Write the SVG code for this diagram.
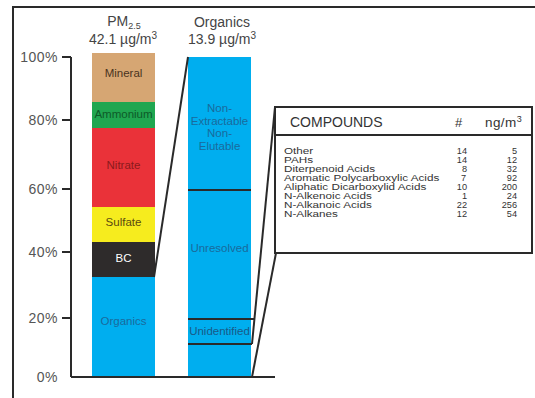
<svg xmlns="http://www.w3.org/2000/svg" width="535" height="398" viewBox="0 0 535 398">
<style>
text{font-family:"Liberation Sans",Arial,sans-serif}
.ax{font-size:14px;fill:#555;text-anchor:end;letter-spacing:0.5px}
.ttl{font-size:14px;fill:#444;text-anchor:middle}
.seg{font-size:11.5px;text-anchor:middle}
.ln{stroke:#2a2a2a;stroke-width:2;fill:none}
.row{font-size:8.8px;fill:#333}
.num{font-size:9.2px;fill:#333;text-anchor:end}
</style>
<rect width="535" height="398" fill="#fff"/>
<g id="frame">
<path class="ln" d="M13,398 V7 H535" stroke-width="2.5"/>
</g>
<g id="axis">
<path class="ln" d="M71,57 V377 M62,57 H71 M62,120 H71 M62,189 H71 M62,252 H71 M62,318 H71"/>
<text class="ax" x="58" y="62">100%</text>
<text class="ax" x="58" y="125">80%</text>
<text class="ax" x="58" y="194">60%</text>
<text class="ax" x="58" y="257">40%</text>
<text class="ax" x="58" y="323">20%</text>
<text class="ax" x="58" y="382">0%</text>
</g>
<g id="titles">
<text class="ttl" x="124" y="26">PM<tspan font-size="9" dy="3">2.5</tspan></text>
<text class="ttl" x="123" y="44">42.1 µg/m<tspan font-size="10" dy="-5">3</tspan></text>
<text class="ttl" x="222" y="27">Organics</text>
<text class="ttl" x="222" y="44">13.9 µg/m<tspan font-size="10" dy="-5">3</tspan></text>
</g>
<g id="pm-bar">
<g id="mineral"><rect x="92" y="53" width="63" height="49" fill="#d6a673"/><text class="seg" x="123.5" y="77" fill="#4a3320">Mineral</text></g>
<g id="ammonium"><rect x="92" y="102" width="63" height="26" fill="#20a650"/><text class="seg" x="123.5" y="118" fill="#0d5a28">Ammonium</text></g>
<g id="nitrate"><rect x="92" y="128" width="63" height="79" fill="#ea3239"/><text class="seg" x="123.5" y="169" fill="#8a1a1c">Nitrate</text></g>
<g id="sulfate"><rect x="92" y="207" width="63" height="35" fill="#f6ec1e"/><text class="seg" x="123.5" y="226" fill="#5a4a10">Sulfate</text></g>
<g id="bc"><rect x="92" y="242" width="63" height="35" fill="#2e2b2b"/><text class="seg" x="123.5" y="262" fill="#fff">BC</text></g>
<g id="organics"><rect x="92" y="277" width="63" height="100" fill="#00aeef"/><text class="seg" x="123.5" y="325" fill="#1a6a9c">Organics</text></g>
</g>
<g id="org-bar">
<rect x="188" y="57" width="63" height="320" fill="#00aeef"/>
<g id="nonextractable" fill="#1a6a9c">
<text class="seg" x="219.5" y="112">Non-</text>
<text class="seg" x="219.5" y="125">Extractable</text>
<text class="seg" x="219.5" y="137">Non-</text>
<text class="seg" x="219.5" y="150">Elutable</text>
</g>
<g id="unresolved"><path class="ln" d="M188,190 H251"/><text class="seg" x="219.5" y="252" fill="#1a6a9c">Unresolved</text></g>
<g id="unidentified"><path class="ln" d="M188,319 H254 M188,344 H252"/><text class="seg" x="219.5" y="335" fill="#1a5a88">Unidentified</text></g>
</g>
<g id="compounds">
<rect x="275" y="107" width="257" height="146" fill="#fff" stroke="#2a2a2a" stroke-width="2"/>
<path class="ln" d="M275,135 H532"/>
<text x="290" y="127" font-size="14" fill="#333">COMPOUNDS</text>
<text x="455" y="127" font-size="13" fill="#333">#</text>
<text x="485" y="127" font-size="13.5" fill="#333" letter-spacing="0.4">ng/m<tspan font-size="9" dy="-5">3</tspan></text>
<g transform="translate(284,0) scale(1.33,1)">
<text class="row" x="0" y="154">Other</text>
<text class="row" x="0" y="163">PAHs</text>
<text class="row" x="0" y="172">Diterpenoid Acids</text>
<text class="row" x="0" y="181">Aromatic Polycarboxylic Acids</text>
<text class="row" x="0" y="190">Aliphatic Dicarboxylid Acids</text>
<text class="row" x="0" y="199">N-Alkenoic Acids</text>
<text class="row" x="0" y="208">N-Alkanoic Acids</text>
<text class="row" x="0" y="217">N-Alkanes</text>
</g>
<text class="num" x="467" y="154">14</text>
<text class="num" x="467" y="163">14</text>
<text class="num" x="467" y="172">8</text>
<text class="num" x="466" y="181">7</text>
<text class="num" x="467" y="190">10</text>
<text class="num" x="467" y="199">1</text>
<text class="num" x="467" y="208">22</text>
<text class="num" x="467" y="217">12</text>
<text class="num" x="517" y="154">5</text>
<text class="num" x="517" y="163">12</text>
<text class="num" x="517" y="172">32</text>
<text class="num" x="517" y="181">92</text>
<text class="num" x="517" y="190">200</text>
<text class="num" x="517" y="199">24</text>
<text class="num" x="517" y="208">256</text>
<text class="num" x="517" y="217">54</text>
</g>
<g id="connectors">
<path class="ln" d="M188,57 L154,277"/>
<path class="ln" d="M275,107 L252,344"/>
<path class="ln" d="M276,253 L252,377"/>
<path class="ln" d="M71,377 H275"/>
</g>
</svg>
